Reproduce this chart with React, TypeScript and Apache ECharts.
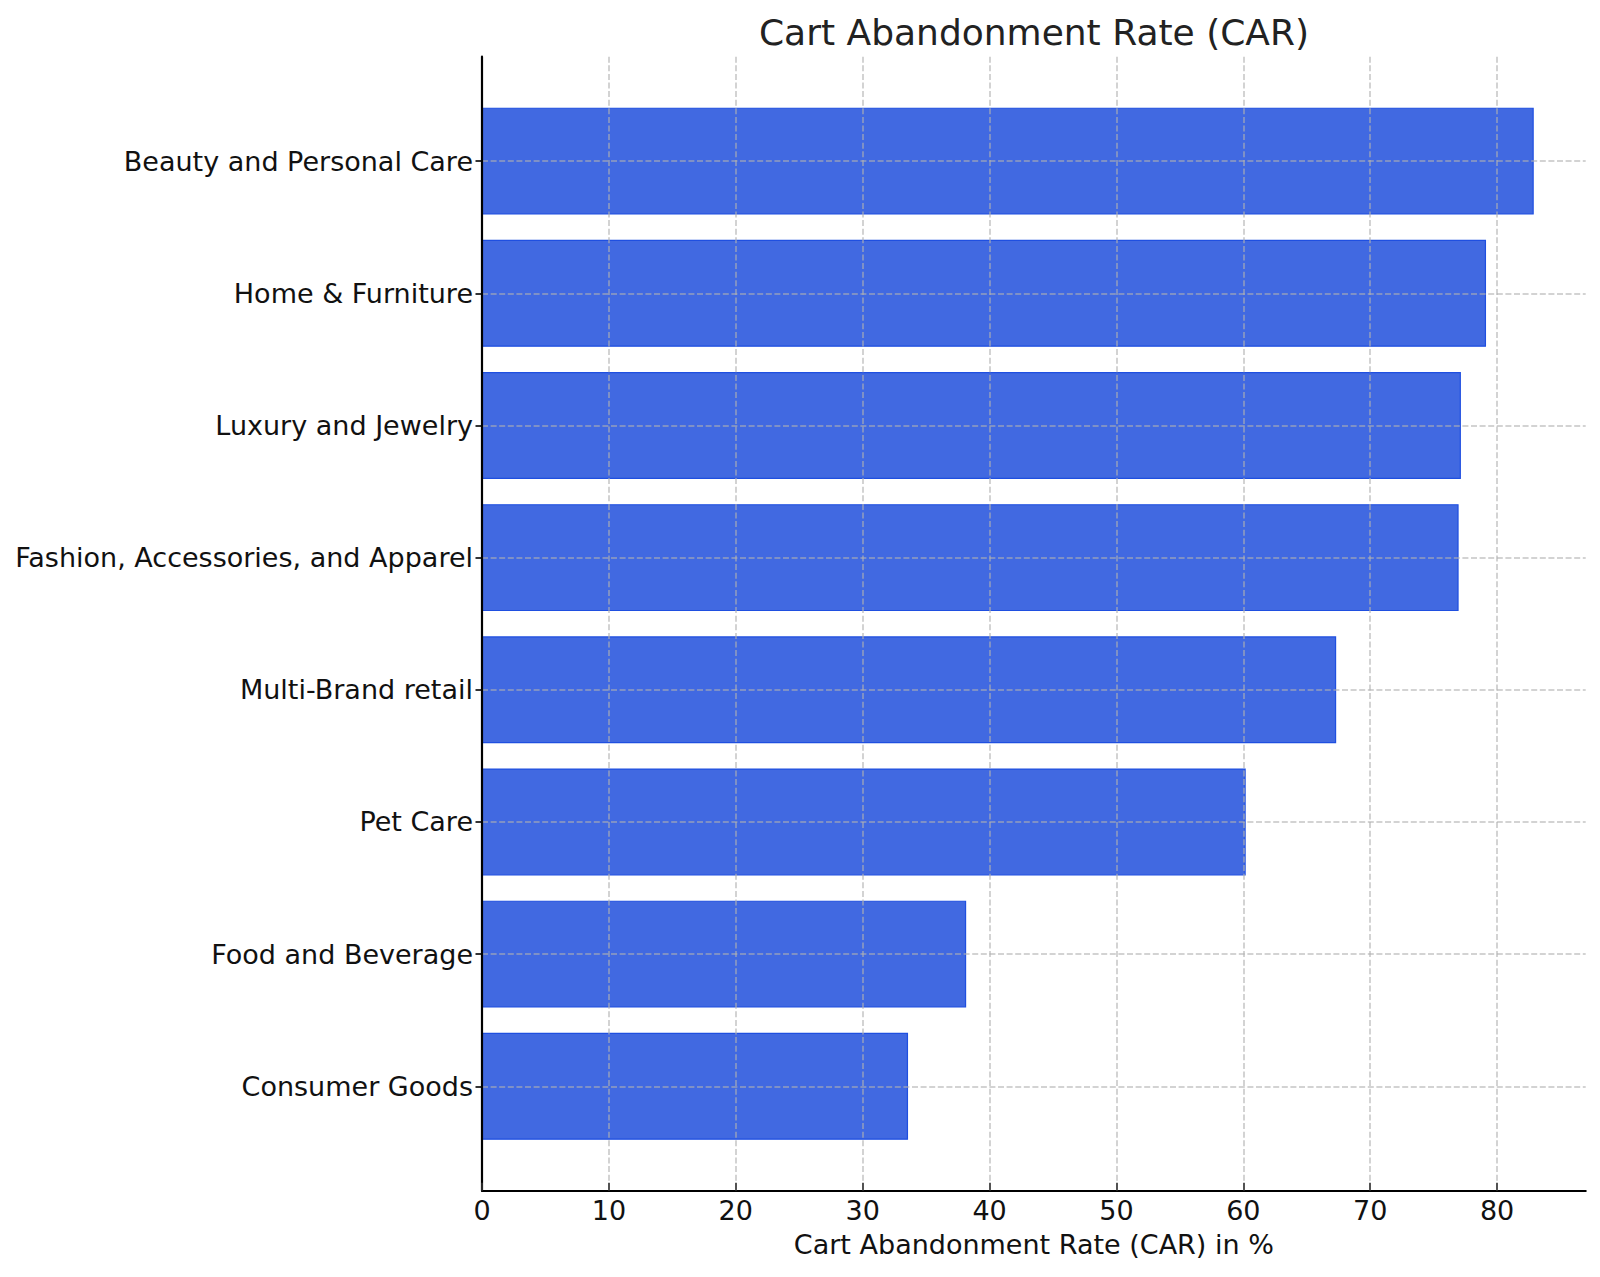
import React, { useEffect, useRef } from "react";
import * as echarts from "echarts";

const categories = [
  "Beauty and Personal Care",
  "Home & Furniture",
  "Luxury and Jewelry",
  "Fashion, Accessories, and Apparel",
  "Multi-Brand retail",
  "Pet Care",
  "Food and Beverage",
  "Consumer Goods",
];
const carValues = [82.84, 79.08, 77.1, 76.92, 67.27, 60.14, 38.11, 33.53];
const xTickValues = [0, 10, 20, 30, 40, 50, 60, 70, 80];
const chartTitle = "Cart Abandonment Rate (CAR)";
const xAxisTitle = "Cart Abandonment Rate (CAR) in %";

const FONT = "DejaVu Sans";

export default function App() {
  const ref = useRef<HTMLDivElement>(null);
  useEffect(() => {
    if (!ref.current) return;
    const chart = echarts.init(ref.current, null, { renderer: "svg" });
    const catIdx = categories.map((_, i) => i);
    const data = carValues.map((v, i) => [v, i]);
    const barHeight = 0.8;
    const yPad = barHeight / 2 + 0.05 * (categories.length - 1 + barHeight);
    const xMax = Math.max(...carValues) * 1.05;
    const gridStyle = {
      show: true,
      lineStyle: { color: "rgba(176,176,176,0.75)", type: [6, 2.6], width: 1.5 },
    };
    chart.setOption({
      animation: false,
      backgroundColor: "#ffffff",
      title: {
        text: chartTitle,
        left: 1029,
        top: 9,
        textAlign: "center",
        textStyle: { fontFamily: FONT, fontSize: 36, fontWeight: "normal", color: "#222" },
      },
      grid: { left: 482, right: 14.3, top: 56.7, bottom: 86.3, containLabel: false },
      xAxis: {
        type: "value",
        min: 0,
        max: xMax,
        z: 5,
        name: xAxisTitle,
        nameLocation: "middle",
        nameGap: 40,
        nameTextStyle: { fontFamily: FONT, fontSize: 27, color: "#111" },
        axisLine: { show: true, onZero: false, lineStyle: { color: "#000", width: 2.2 } },
        axisTick: { show: true, inside: true, length: 8, customValues: xTickValues, lineStyle: { color: "#333", width: 1.6 } },
        axisLabel: {
          customValues: xTickValues,
          margin: 6,
          fontFamily: FONT,
          fontSize: 27,
          color: "#111",
        },
        splitLine: gridStyle,
      },
      yAxis: {
        type: "value",
        inverse: true,
        min: -yPad,
        max: categories.length - 1 + yPad,
        z: 5,
        axisLine: { show: true, onZero: false, lineStyle: { color: "#000", width: 2.2 } },
        axisTick: { show: true, inside: false, length: 6.5, customValues: catIdx, lineStyle: { color: "#000", width: 1.6 } },
        axisLabel: {
          customValues: catIdx,
          margin: 9,
          fontFamily: FONT,
          fontSize: 27,
          color: "#111",
          formatter: (v: number) => categories[Math.round(v)] ?? "",
        },
        splitLine: gridStyle,
      },
      series: [
        {
          type: "custom",
          z: 2,
          encode: { x: 0, y: 1 },
          data,
          renderItem: (params: any, api: any) => {
            const val = api.value(0);
            const idx = api.value(1);
            const start = api.coord([0, idx]);
            const end = api.coord([val, idx]);
            const h = Math.abs(api.size([0, barHeight])[1]);
            return {
              type: "rect",
              shape: { x: start[0], y: start[1] - h / 2, width: end[0] - start[0], height: h },
              style: { fill: "#4169E1", stroke: "#1f4fe0", lineWidth: 1.2 },
            };
          },
        },
      ],
    });
    return () => chart.dispose();
  }, []);
  return (
    <div
      ref={ref}
      style={{ position: "absolute", left: 0, top: 0, width: 1600, height: 1277 }}
    />
  );
}
